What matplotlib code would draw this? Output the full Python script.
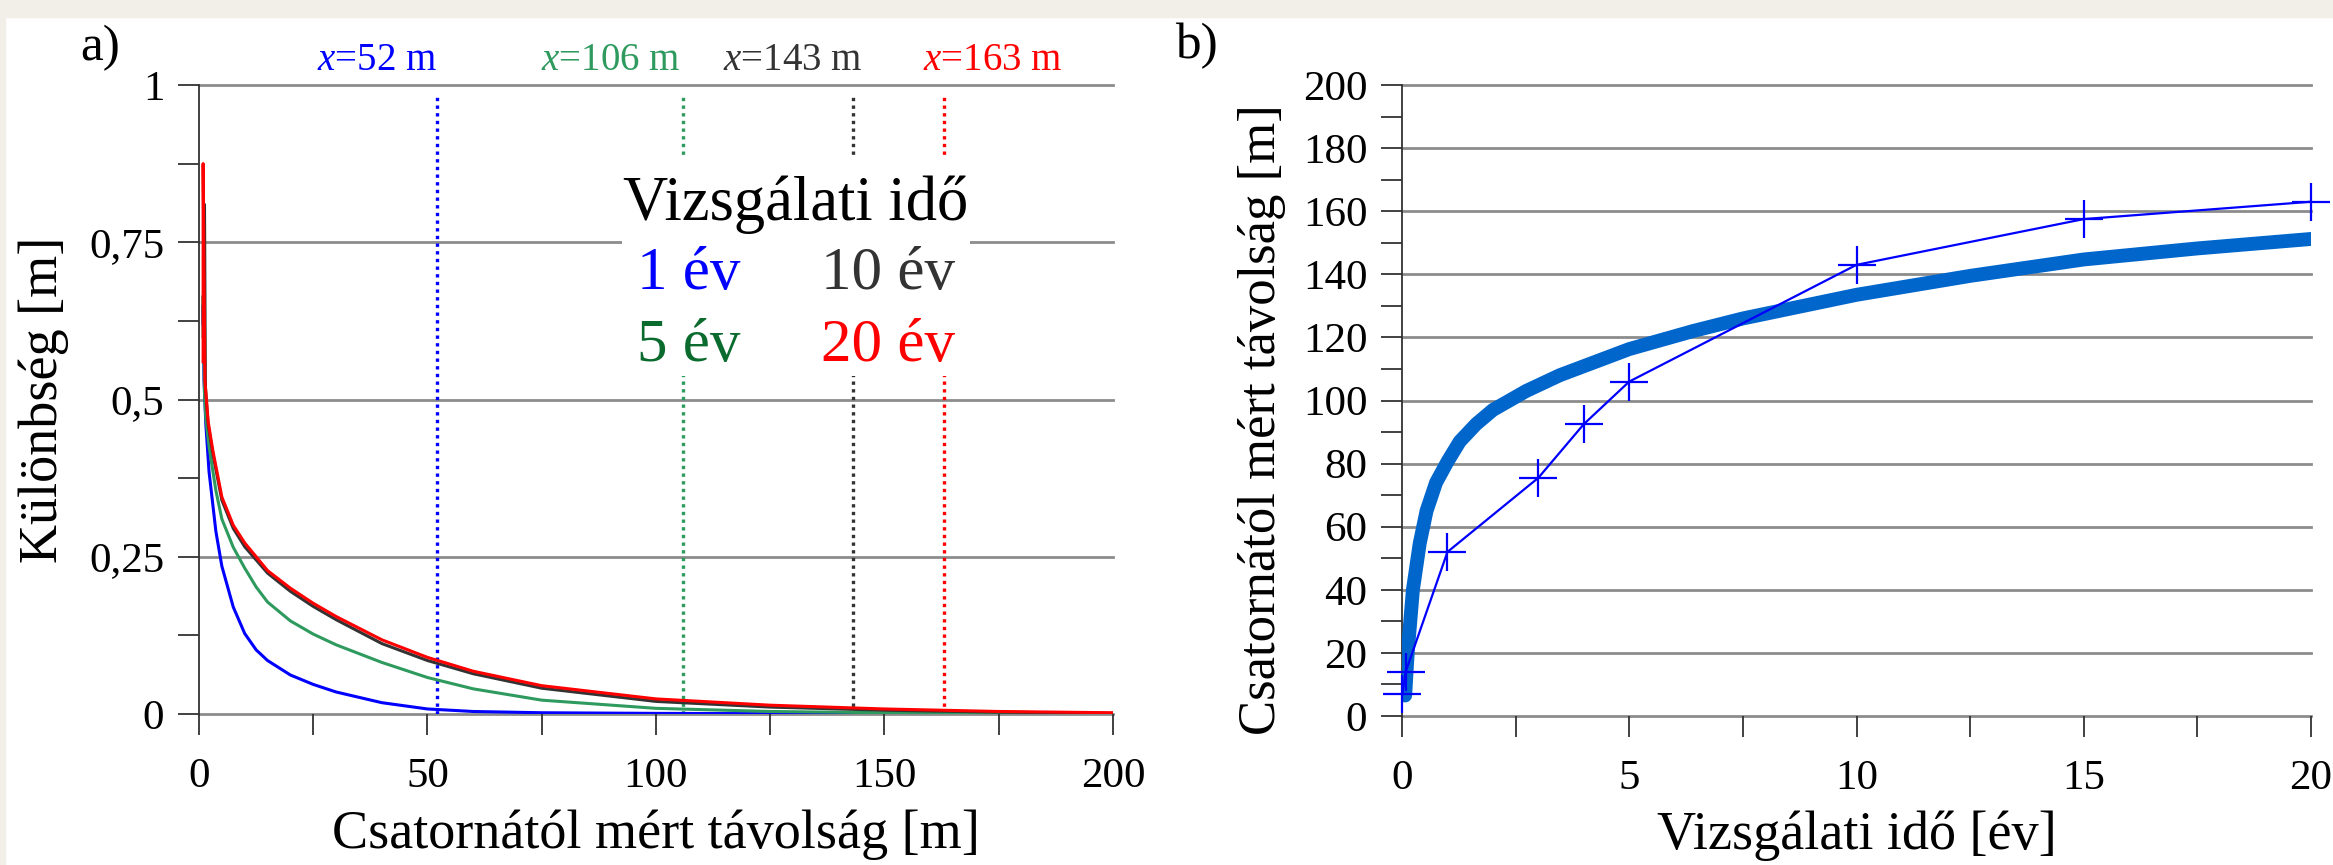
import matplotlib as mpl
mpl.use('Agg')
import matplotlib.pyplot as plt
from matplotlib.patches import Rectangle
from matplotlib.ticker import MultipleLocator, FixedLocator, FixedFormatter

plt.rcParams['font.family'] = ['Liberation Serif', 'DejaVu Serif']
plt.rcParams['mathtext.fontset'] = 'custom'
plt.rcParams['mathtext.rm'] = 'Liberation Serif'
plt.rcParams['mathtext.it'] = 'Liberation Serif:italic'

# a) kulonbseg a csatornatol mert tavolsag fuggvenyeben
x_1ev = [0.9, 0.9, 1.1, 1.5, 2.2, 3.7, 5, 7.5, 10, 12.5, 15, 20, 25, 30, 40, 50, 60, 75, 100, 150, 200]
y_1ev = [0.62, 0.65, 0.53, 0.46, 0.385, 0.29, 0.235, 0.17, 0.128, 0.102, 0.085, 0.062, 0.047, 0.035, 0.018, 0.008, 0.004, 0.002, 0.001, 0.0, 0.0]

x_5ev = [0.9, 0.9, 1.2, 1.5, 2.2, 3.7, 5, 7.5, 10, 12.5, 15, 20, 25, 30, 40, 50, 60, 75, 100, 125, 150, 200]
y_5ev = [0.6, 0.665, 0.51, 0.47, 0.425, 0.355, 0.31, 0.265, 0.232, 0.202, 0.178, 0.148, 0.127, 0.11, 0.082, 0.058, 0.04, 0.022, 0.009, 0.004, 0.002, 0.0]

x_10ev = [1.2, 1.2, 1.4, 2, 3, 5, 7.5, 10, 12.5, 15, 20, 25, 30, 40, 50, 60, 75, 100, 125, 150, 175, 200]
y_10ev = [0.7, 0.81, 0.52, 0.46, 0.415, 0.34, 0.295, 0.266, 0.245, 0.224, 0.195, 0.171, 0.15, 0.112, 0.085, 0.064, 0.041, 0.02, 0.011, 0.006, 0.003, 0.001]

x_20ev = [0.9, 0.9, 1.3, 2, 3, 5, 7.5, 10, 12.5, 15, 20, 25, 30, 40, 50, 60, 75, 100, 125, 150, 175, 200]
y_20ev = [0.56, 0.875, 0.53, 0.465, 0.42, 0.345, 0.3, 0.272, 0.25, 0.228, 0.2, 0.176, 0.155, 0.118, 0.09, 0.068, 0.045, 0.024, 0.014, 0.008, 0.004, 0.002]

hatartav = [52, 106, 143, 163]
hatar_szin = ['#0000ff', '#2e9a5e', '#333333', '#ff0000']
hatar_felirat_x = [25.8, 74.8, 114.7, 158.4]

y_tick_a = [0, 0.25, 0.5, 0.75, 1]
y_tick_a_labels = ['0', '0,25', '0,5', '0,75', '1']

# b) hatartavolsag a vizsgalati ido fuggvenyeben
t_meres = [0.01, 0.08, 1, 3, 4, 5, 10, 15, 20]
d_meres = [7, 14, 52, 75.5, 92.5, 106, 143, 157.5, 163]

t_illesztes = [0.07, 0.1, 0.13, 0.24, 0.39, 0.54, 0.75, 1.0, 1.27, 1.63, 2.0, 2.73, 3.47, 5, 6.4, 7.5, 10, 12.5, 15, 17.5, 20]
d_illesztes = [6.5, 14, 21, 40, 54.7, 65, 74, 80.6, 87, 92.5, 97, 103, 108, 116.3, 122, 126, 133.5, 139.5, 144.7, 148.2, 151.2]

GRID = '#8c8c8c'
TICK = '#333333'


def style_axes(ax, yticks):
    for s in ['top', 'right']:
        ax.spines[s].set_visible(False)
    ax.spines['left'].set_color(TICK)
    ax.spines['left'].set_linewidth(1.3)
    ax.spines['bottom'].set_visible(False)
    for y in yticks:
        ax.axhline(y, color=GRID, lw=2.0, zorder=1, clip_on=False)
    ax.tick_params(which='both', direction='out', length=15, width=1.3, color=TICK, labelsize=31)
    ax.tick_params(axis='y', which='both', pad=10)
    ax.tick_params(axis='x', which='both', pad=16)


fig = plt.figure(figsize=(23.33, 8.65), dpi=100, facecolor='white')
fig.patches.append(Rectangle((0, 1 - 17 / 865), 1, 17 / 865, transform=fig.transFigure, color='#f2efe9', zorder=0))
fig.patches.append(Rectangle((0, 0), 5 / 2333, 1, transform=fig.transFigure, color='#f2efe9', zorder=0))

# ---- a) ----
ax1 = fig.add_axes([199 / 2333, 1 - 714 / 865, 914 / 2333, 629 / 865])
ax1.set_xlim(0, 200)
ax1.set_ylim(0, 1)
style_axes(ax1, y_tick_a)
ax1.yaxis.set_major_locator(FixedLocator(y_tick_a))
ax1.yaxis.set_major_formatter(FixedFormatter(y_tick_a_labels))
ax1.yaxis.set_minor_locator(MultipleLocator(0.125))
ax1.xaxis.set_major_locator(MultipleLocator(50))
ax1.xaxis.set_minor_locator(MultipleLocator(25))

ax1.plot(x_1ev, y_1ev, color='#0000ff', lw=2.2, zorder=3)
ax1.plot(x_5ev, y_5ev, color='#2e9a5e', lw=2.2, zorder=3)
ax1.plot(x_10ev, y_10ev, color='#333333', lw=2.2, zorder=3)
ax1.plot(x_20ev, y_20ev, color='#ff0000', lw=2.2, zorder=3)

for xv, c, xt in zip(hatartav, hatar_szin, hatar_felirat_x):
    ax1.plot([xv, xv], [0, 0.985], color=c, lw=2.4, linestyle=(0, (1, 1.3)), zorder=2)
    ax1.text(xt, 1.024, r'$x$=%d m' % xv, color=c, fontsize=28, va='baseline', ha='left')

ax1.add_patch(Rectangle((92.6, 0.537), 76.1, 0.352, facecolor='white', edgecolor='none', zorder=4))
ax1.text(130.6, 0.785, 'Vizsgálati idő', fontsize=45, ha='center', va='baseline', color='black', zorder=5)
ax1.text(118.4, 0.676, '1 év', fontsize=44, ha='right', va='baseline', color='#0000ff', zorder=5)
ax1.text(165.4, 0.676, '10 év', fontsize=44, ha='right', va='baseline', color='#333333', zorder=5)
ax1.text(118.4, 0.561, '5 év', fontsize=44, ha='right', va='baseline', color='#0b6b2e', zorder=5)
ax1.text(165.4, 0.561, '20 év', fontsize=44, ha='right', va='baseline', color='#ff0000', zorder=5)

ax1.set_xlabel('Csatornától mért távolság [m]', fontsize=39)
ax1.set_ylabel('Különbség [m]', fontsize=39)
ax1.xaxis.set_label_coords(0.5, -0.192)
ax1.xaxis.label.set_va('center')
ax1.yaxis.set_label_coords(-0.17, 0.5)
ax1.yaxis.label.set_va('center')
fig.text(100 / 2333, 1 - 48 / 865, 'a)', fontsize=37, ha='center', va='center')

# ---- b) ----
ax2 = fig.add_axes([1402 / 2333, 1 - 716 / 865, 909 / 2333, 631 / 865])
ax2.set_xlim(0, 20)
ax2.set_ylim(0, 200)
style_axes(ax2, range(0, 201, 20))
ax2.yaxis.set_major_locator(MultipleLocator(20))
ax2.yaxis.set_minor_locator(MultipleLocator(10))
ax2.xaxis.set_major_locator(MultipleLocator(5))
ax2.xaxis.set_minor_locator(MultipleLocator(2.5))

ax2.plot(t_illesztes, d_illesztes, color='#0066cc', lw=10, solid_capstyle='round', solid_joinstyle='round', zorder=3)
ax2.plot(t_meres, d_meres, color='#0000ff', lw=1.6, marker='+', markersize=28, markeredgewidth=1.6, zorder=4, clip_on=False)

ax2.set_xlabel('Vizsgálati idő [év]', fontsize=39)
ax2.set_ylabel('Csatornától mért távolság [m]', fontsize=38)
ax2.xaxis.set_label_coords(0.5, -0.189)
ax2.xaxis.label.set_va('center')
ax2.yaxis.set_label_coords(-0.154, 0.469)
ax2.yaxis.label.set_va('center')
fig.text(1196 / 2333, 1 - 46 / 865, 'b)', fontsize=37, ha='center', va='center')

plt.savefig('out.png', dpi=100, facecolor=fig.get_facecolor())
